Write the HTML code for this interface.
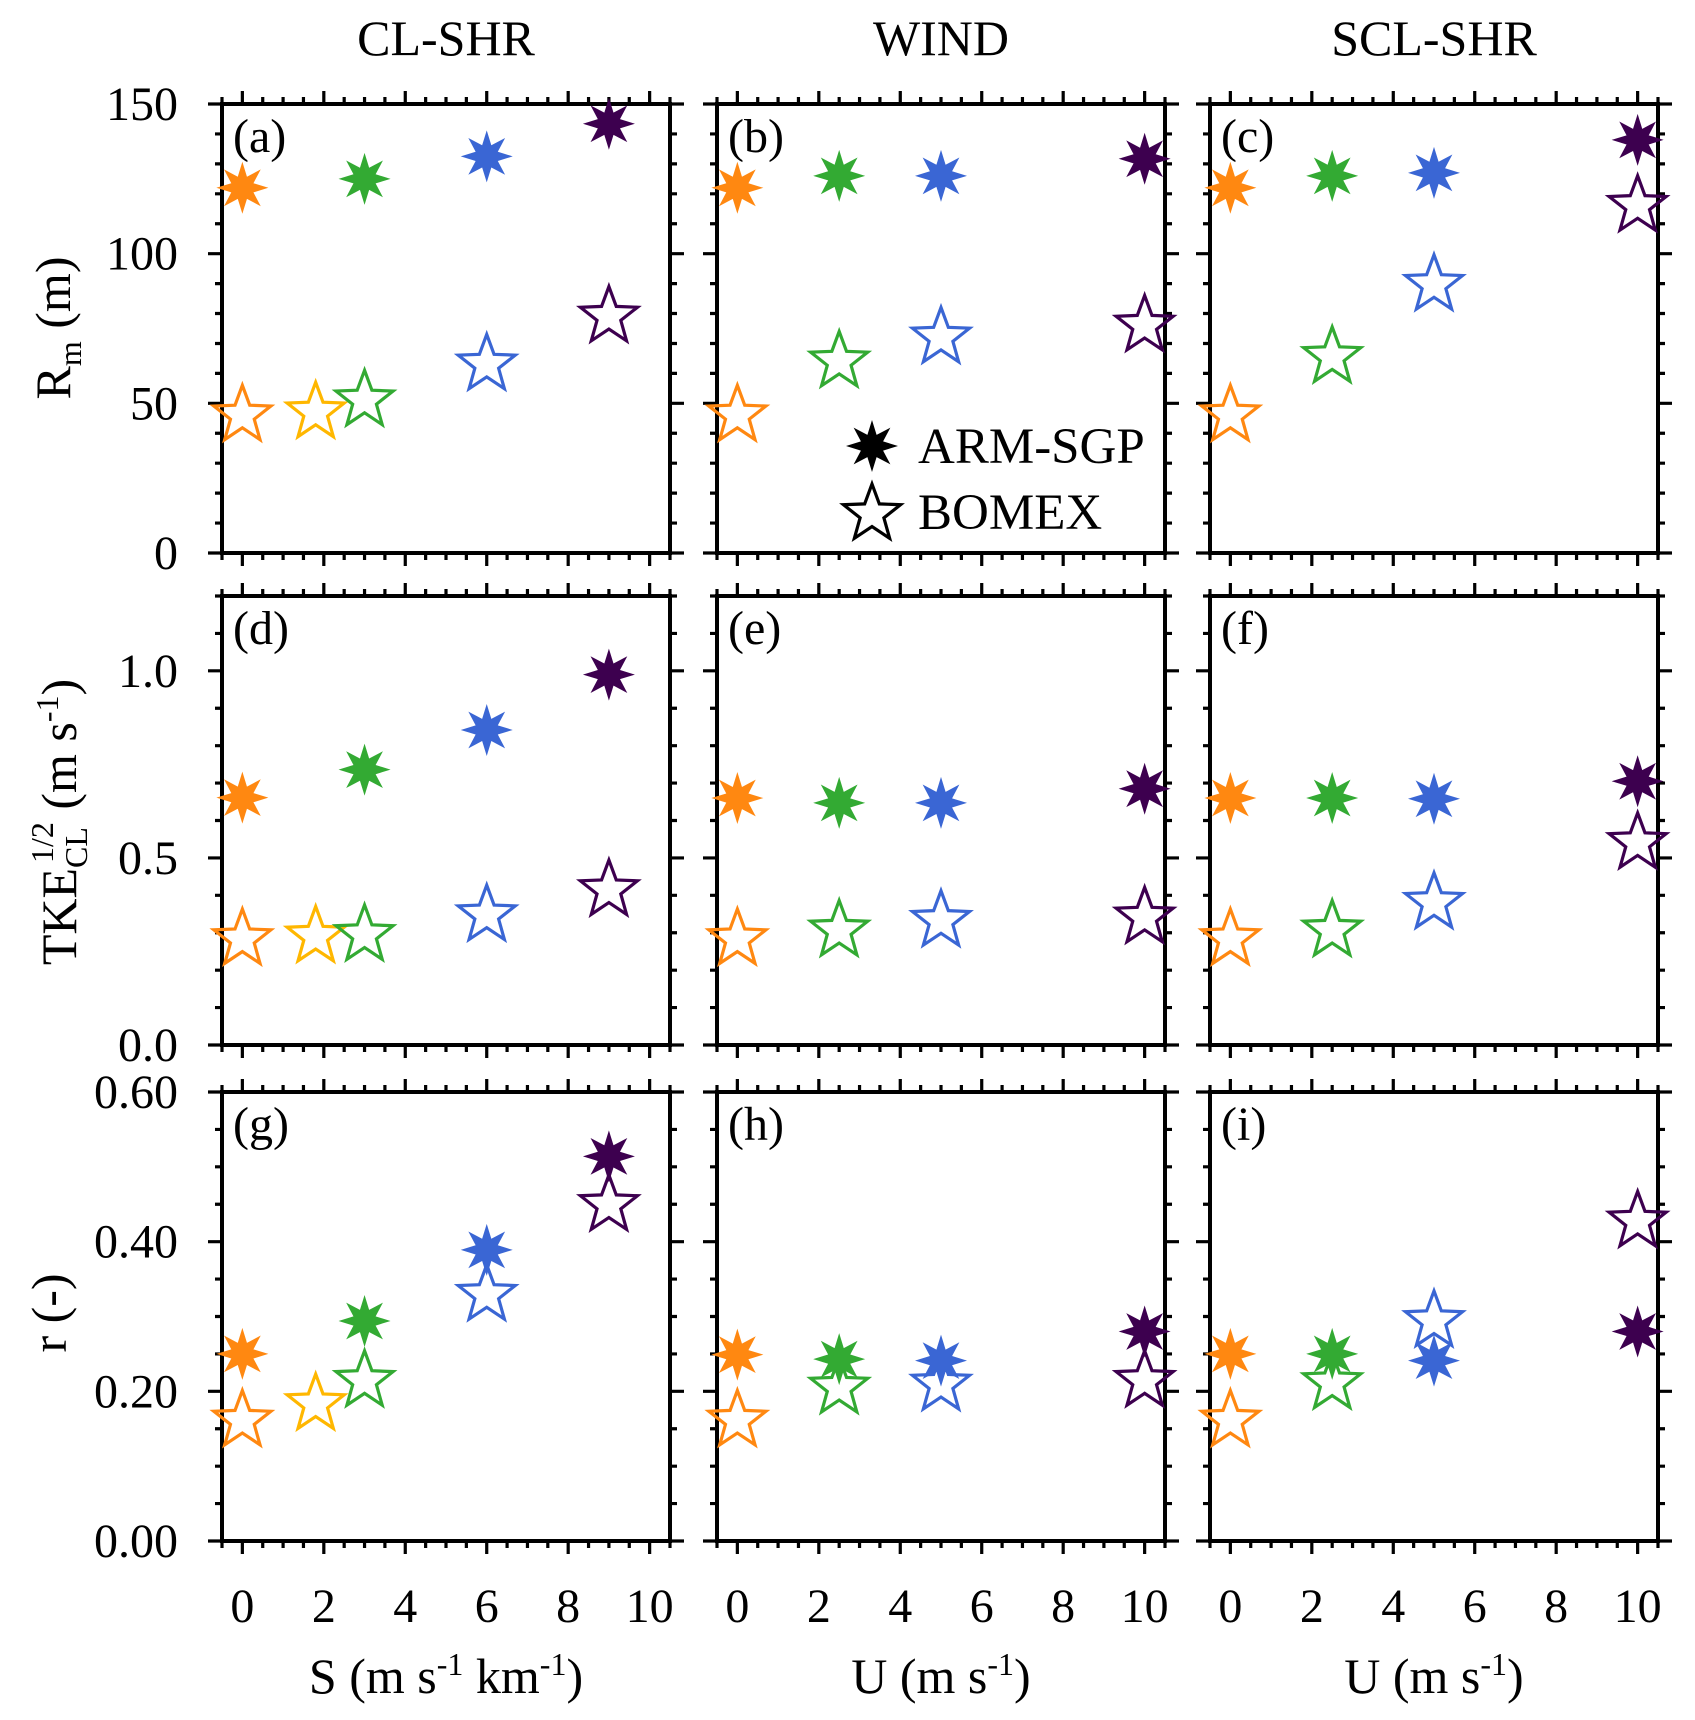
<!DOCTYPE html>
<html><head><meta charset="utf-8"><style>
html,body{margin:0;padding:0;background:#fff;}
svg{display:block;font-family:"Liberation Serif",serif;}
</style></head><body>
<svg id="fig" width="1695" height="1720" viewBox="0 0 1695 1720"></svg>
<script>
// ---- data ----
const colorNames = ["orange","yellow","green","blue","purple"];
const colorVals = ["#ff8811","#ffb700","#33aa33","#3a66d4","#3d004f"];
// CL-SHR column
const xShear = [0, 3, 6, 9];
const xShearBomex = [0, 1.8, 3, 6, 9];
const colShearArm = [0, 2, 3, 4];
const colShearBomex = [0, 1, 2, 3, 4];
// WIND / SCL-SHR columns
const xWind = [0, 2.5, 5, 10];
const colWind = [0, 2, 3, 4];
// panel (a)
const rmArmA = [122, 125, 132.5, 143.4];
const rmBomexA = [46, 47, 51, 63, 79];
// panel (b)
const rmArmB = [122, 126, 126, 131.7];
const rmBomexB = [46, 64, 72, 76];
// panel (c)
const rmArmC = [122, 126, 127, 138];
const rmBomexC = [46, 65.5, 89.6, 116];
// panel (d)
const tkeArmD = [0.661, 0.736, 0.842, 0.99];
const tkeBomexD = [0.283, 0.29, 0.294, 0.347, 0.414];
// panel (e)
const tkeArmE = [0.66, 0.647, 0.647, 0.685];
const tkeBomexE = [0.283, 0.306, 0.332, 0.341];
// panel (f)
const tkeArmF = [0.66, 0.66, 0.658, 0.705];
const tkeBomexF = [0.283, 0.306, 0.38, 0.54];
// panel (g)
const rArmG = [0.25, 0.294, 0.389, 0.514];
const rBomexG = [0.161, 0.183, 0.214, 0.329, 0.449];
// panel (h)
const rArmH = [0.249, 0.243, 0.241, 0.28];
const rBomexH = [0.161, 0.205, 0.209, 0.214];
// panel (i)
const rArmI = [0.25, 0.25, 0.241, 0.28];
const rBomexI = [0.161, 0.211, 0.294, 0.427];
// axes
const xTicks = [0, 2, 4, 6, 8, 10];
const xTickLabels = ["0","2","4","6","8","10"];
const yTicksRm = [0, 50, 100, 150];
const yTickLabelsRm = ["0","50","100","150"];
const yTicksTke = [0, 0.5, 1.0];
const yTickLabelsTke = ["0.0","0.5","1.0"];
const yTicksR = [0, 0.2, 0.4, 0.6];
const yTickLabelsR = ["0.00","0.20","0.40","0.60"];
const columnTitles = ["CL-SHR","WIND","SCL-SHR"];
const panelLetters = ["(a)","(b)","(c)","(d)","(e)","(f)","(g)","(h)","(i)"];

// ---- layout ----
const NS = "http://www.w3.org/2000/svg";
const svg = document.getElementById("fig");
const colX = [222, 717, 1210], PW = 448;
const rowY = [104, 596, 1092], PH = 449;
const xMin = -0.5, xMax = 10.5;
const rowDefs = [
  {min:0, max:150, minor:10, ticks:yTicksRm, labels:yTickLabelsRm, name:"rm"},
  {min:0, max:1.2, minor:0.1, ticks:yTicksTke, labels:yTickLabelsTke, name:"tke"},
  {min:0, max:0.6, minor:0.05, ticks:yTicksR, labels:yTickLabelsR, name:"r"}
];
const panels = [
  {arm:rmArmA, ax:xShear, ac:colShearArm, bom:rmBomexA, bx:xShearBomex, bc:colShearBomex},
  {arm:rmArmB, ax:xWind, ac:colWind, bom:rmBomexB, bx:xWind, bc:colWind},
  {arm:rmArmC, ax:xWind, ac:colWind, bom:rmBomexC, bx:xWind, bc:colWind},
  {arm:tkeArmD, ax:xShear, ac:colShearArm, bom:tkeBomexD, bx:xShearBomex, bc:colShearBomex},
  {arm:tkeArmE, ax:xWind, ac:colWind, bom:tkeBomexE, bx:xWind, bc:colWind},
  {arm:tkeArmF, ax:xWind, ac:colWind, bom:tkeBomexF, bx:xWind, bc:colWind},
  {arm:rArmG, ax:xShear, ac:colShearArm, bom:rBomexG, bx:xShearBomex, bc:colShearBomex},
  {arm:rArmH, ax:xWind, ac:colWind, bom:rBomexH, bx:xWind, bc:colWind},
  {arm:rArmI, ax:xWind, ac:colWind, bom:rBomexI, bx:xWind, bc:colWind}
];

function mk(tag, attrs, parent){
  const e = document.createElementNS(NS, tag);
  for (const k in attrs) e.setAttribute(k, attrs[k]);
  (parent||svg).appendChild(e);
  return e;
}
function starPath(cx, cy, n, R, r){
  let d = "";
  for (let i=0;i<2*n;i++){
    const a = -Math.PI/2 + i*Math.PI/n;
    const rad = i%2===0 ? R : r;
    d += (i===0?"M":"L") + (cx+rad*Math.cos(a)).toFixed(2) + "," + (cy+rad*Math.sin(a)).toFixed(2);
  }
  return d+"Z";
}
function armStar(cx, cy, color, parent){
  const p = mk("path", {d:starPath(cx,cy,8,26,12), fill:color, stroke:"none"}, parent);
  
  
  return p;
}
function bomexStar(cx, cy, color, parent){
  const p = mk("path", {d:starPath(cx,cy,5,30,12.5), fill:"none", stroke:color, "stroke-width":3.2, "stroke-linejoin":"miter"}, parent);
  
  
  return p;
}

// column titles
columnTitles.forEach((t,c)=>{
  const e = mk("text", {x:colX[c]+PW/2, y:55, "font-size":50, "text-anchor":"middle"});
  e.textContent = t;
  
  
});

for (let r=0;r<3;r++){
  const rd = rowDefs[r];
  for (let c=0;c<3;c++){
    const idx = r*3+c;
    const x0 = colX[c], y0 = rowY[r];
    const sx = v => x0 + (v-xMin)/(xMax-xMin)*PW;
    const sy = v => y0 + PH - (v-rd.min)/(rd.max-rd.min)*PH;
    const g = mk("g", {});
    
    
    let tk = "";
    for (let k=0;k<=22;k++){
      const v = xMin + k*0.5;
      const major = Math.abs(v - Math.round(v))<1e-6 && Math.round(v)%2===0;
      const L = major?13:7;
      const X = sx(v);
      tk += `M${X},${y0}v${-L}M${X},${y0+PH}v${L}`;
    }
    const nMin = Math.round((rd.max-rd.min)/rd.minor);
    for (let k=0;k<=nMin;k++){
      const v = rd.min + k*rd.minor;
      const major = rd.ticks.some(t=>Math.abs(t-v)<1e-6);
      const L = major?14:7;
      const Y = sy(v);
      tk += `M${x0},${Y}h${-L}M${x0+PW},${Y}h${L}`;
    }
    const ticks = mk("path", {d:tk, stroke:"#000", "stroke-width":3.2, fill:"none"}, g);
    
    
    const fr = mk("rect", {x:x0, y:y0, width:PW, height:PH, fill:"none", stroke:"#000", "stroke-width":4}, g);
    
    
    if (c===0){
      rd.ticks.forEach((t,i)=>{
        const e = mk("text", {x:x0-44, y:sy(t)+16, "font-size":48, "text-anchor":"end"}, g);
        e.textContent = rd.labels[i];
        
        
      });
    }
    if (r===2){
      xTicks.forEach((t,i)=>{
        const e = mk("text", {x:sx(t), y:1622, "font-size":48, "text-anchor":"middle"}, g);
        e.textContent = xTickLabels[i];
        
        
      });
    }
    const pl = mk("text", {x:x0+11, y:y0+48, "font-size":48}, g);
    pl.textContent = panelLetters[idx];
    
    
    const P = panels[idx];
    P.bom.forEach((v,i)=> bomexStar(sx(P.bx[i]), sy(v), colorVals[P.bc[i]], g));
    P.arm.forEach((v,i)=> armStar(sx(P.ax[i]), sy(v), colorVals[P.ac[i]], g));
  }
}

// legend in panel (b)
const lg = mk("g", {});


armStar(872, 446, "#000", lg);
bomexStar(872, 514, "#000", lg);
const l1 = mk("text", {x:918, y:463, "font-size":51}, lg); l1.textContent = "ARM-SGP";


const l2 = mk("text", {x:918, y:529, "font-size":51}, lg); l2.textContent = "BOMEX";


</script>
<svg style="position:absolute;left:0;top:0" width="1695" height="1720">
  <g font-family="Liberation Serif, serif" font-size="50">
    <text x="446" y="1693" text-anchor="middle">S (m s<tspan dy="-18" font-size="32">-1</tspan><tspan dy="18"> km</tspan><tspan dy="-18" font-size="32">-1</tspan><tspan dy="18">)</tspan></text>
    <text x="941" y="1693" text-anchor="middle">U (m s<tspan dy="-18" font-size="32">-1</tspan><tspan dy="18">)</tspan></text>
    <text x="1434" y="1693" text-anchor="middle">U (m s<tspan dy="-18" font-size="32">-1</tspan><tspan dy="18">)</tspan></text>
    <text transform="translate(70,328) rotate(-90)" text-anchor="middle">R<tspan dy="11" font-size="32">m</tspan><tspan dy="-11"> (m)</tspan></text>
    <text transform="translate(76,822) rotate(-90)" text-anchor="middle">TKE<tspan dy="11" font-size="32">CL</tspan><tspan dx="-36" dy="-34" font-size="32">1/2</tspan><tspan dy="23"> (m s</tspan><tspan dy="-18" font-size="32">-1</tspan><tspan dy="18">)</tspan></text>
    <text transform="translate(66,1313) rotate(-90)" text-anchor="middle">r (-)</text>
  </g>
</svg>
</body></html>
